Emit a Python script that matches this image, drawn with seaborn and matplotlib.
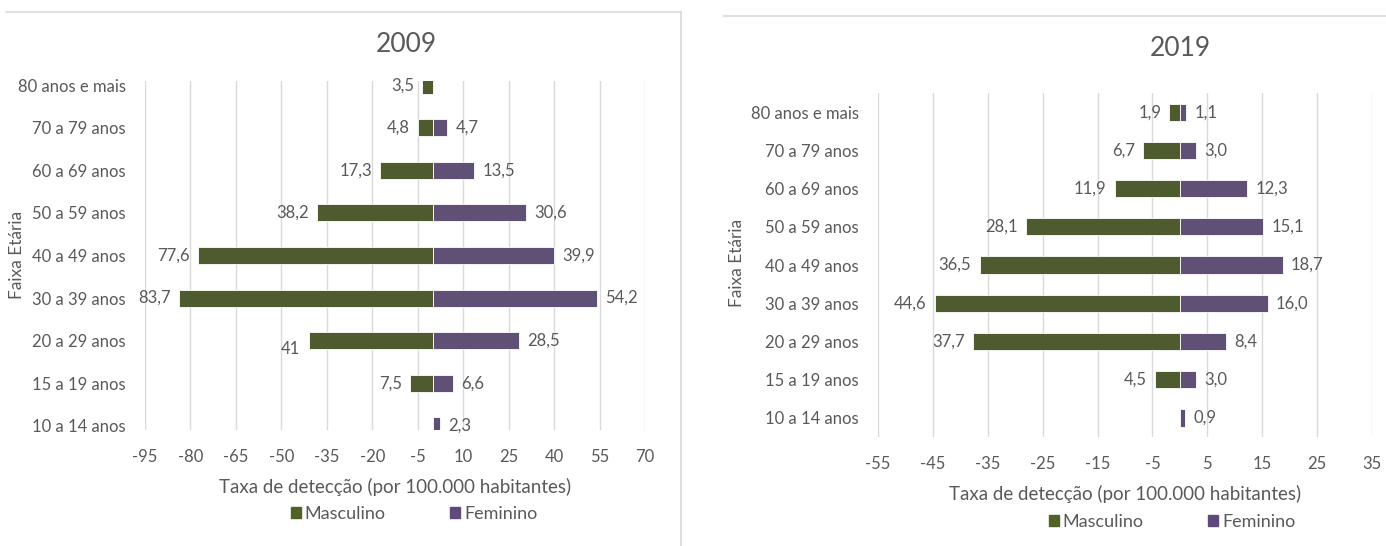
import matplotlib
matplotlib.use("Agg")
import matplotlib.pyplot as plt
from matplotlib.lines import Line2D
import seaborn as sns
import pandas as pd
import numpy as np

# dados (taxa de detecção por 100.000 habitantes)
faixas = ["80 anos e mais", "70 a 79 anos", "60 a 69 anos", "50 a 59 anos",
          "40 a 49 anos", "30 a 39 anos", "20 a 29 anos", "15 a 19 anos",
          "10 a 14 anos"]
masc_2009 = [3.5, 4.8, 17.3, 38.2, 77.6, 83.7, 41, 7.5, np.nan]
fem_2009 = [np.nan, 4.7, 13.5, 30.6, 39.9, 54.2, 28.5, 6.6, 2.3]
masc_2019 = [1.9, 6.7, 11.9, 28.1, 36.5, 44.6, 37.7, 4.5, np.nan]
fem_2019 = [1.1, 3.0, 12.3, 15.1, 18.7, 16.0, 8.4, 3.0, 0.9]
ticks_2009 = list(range(-95, 71, 15))
ticks_2019 = list(range(-55, 36, 10))

VERDE = "#4F6228"
ROXO = "#604A7B"
CINZA = "#595959"
GRADE = "#D9D9D9"

sns.set_style("white")
plt.rcParams["font.family"] = ["Lato", "DejaVu Sans"]
plt.rcParams["text.color"] = CINZA
plt.rcParams["axes.unicode_minus"] = False


def fmt(v):
    return str(v).replace(".", ",")


def piramide(ax, masc, fem, ticks, largura, ymarg):
    df = pd.DataFrame({
        "faixa": faixas * 2,
        "sexo": ["Masculino"] * len(faixas) + ["Feminino"] * len(faixas),
        "valor": [-m for m in masc] + list(fem),
    }).dropna()
    sns.barplot(data=df, y="faixa", x="valor", hue="sexo", order=faixas,
                hue_order=["Masculino", "Feminino"], dodge=False,
                palette={"Masculino": VERDE, "Feminino": ROXO}, width=largura,
                edgecolor="white", linewidth=0.6, ax=ax, zorder=3)
    ax.set_xlim(ticks[0], ticks[-1])
    ax.set_xticks(ticks)
    ax.set_ylim(len(faixas) - 1 + ymarg, -ymarg)
    ax.grid(axis="x", color=GRADE, linewidth=1)
    ax.grid(axis="y", visible=False)
    sns.despine(ax=ax, left=True, bottom=True)
    ax.tick_params(axis="both", length=0, labelsize=12, labelcolor=CINZA)
    ax.tick_params(axis="x", pad=14)
    ax.tick_params(axis="y", pad=14)
    ax.set_xlabel("Taxa de detecção (por 100.000 habitantes)", fontsize=13.5,
                  color=CINZA, labelpad=9)
    ax.set_ylabel("")
    for i, (m, f) in enumerate(zip(masc, fem)):
        if not np.isnan(m):
            dy = 6 if m == 41 else 0
            ax.annotate(fmt(m), (-m, i), xytext=(-6, -dy), textcoords="offset points",
                        ha="right", va="center", fontsize=12, color=CINZA)
        if not np.isnan(f):
            ax.annotate(fmt(f), (f, i), xytext=(6, 0), textcoords="offset points",
                        ha="left", va="center", fontsize=12, color=CINZA)
    ax.legend_.remove()
    return ax


fig = plt.figure(figsize=(13.86, 5.46), dpi=100)
ax1 = fig.add_axes([0.1046, 0.2125, 0.3608, 0.6392])
ax2 = fig.add_axes([0.6335, 0.1996, 0.3564, 0.6300])

piramide(ax1, masc_2009, fem_2009, ticks_2009, 0.4, 0.1)
piramide(ax2, masc_2019, fem_2019, ticks_2019, 0.45, 0.5)

fig.text(406 / 1386, 1 - 45 / 546, "2009", ha="center", va="center", fontsize=19, color=CINZA)
fig.text(1180 / 1386, 1 - 48 / 546, "2019", ha="center", va="center", fontsize=19, color=CINZA)
fig.text(17 / 1386, 1 - 255 / 546, "Faixa Etária", rotation=90, ha="center", va="center",
         fontsize=12.5, color=CINZA)
fig.text(737 / 1386, 1 - 263 / 546, "Faixa Etária", rotation=90, ha="center", va="center",
         fontsize=12.5, color=CINZA)

handles = [plt.Rectangle((0, 0), 1, 1, color=VERDE), plt.Rectangle((0, 0), 1, 1, color=ROXO)]
for cx, cy in [(414, 514), (1172, 522)]:
    fig.legend(handles, ["Masculino", "Feminino"], loc="center",
               bbox_to_anchor=(cx / 1386, 1 - cy / 546), ncol=2, frameon=False,
               handlelength=0.55, handleheight=0.55, handletextpad=0.2,
               columnspacing=3.6, fontsize=13, labelcolor=CINZA)

# molduras cinza dos gráficos
fig.add_artist(Line2D([6 / 1386, 681 / 1386], [1 - 12 / 546, 1 - 12 / 546],
                      transform=fig.transFigure, color=GRADE, linewidth=1.2))
fig.add_artist(Line2D([681 / 1386, 681 / 1386], [1 - 12 / 546, 0],
                      transform=fig.transFigure, color=GRADE, linewidth=1.2))
fig.add_artist(Line2D([723 / 1386, 1], [1 - 16 / 546, 1 - 16 / 546],
                      transform=fig.transFigure, color=GRADE, linewidth=1.2))

fig.savefig("out.png", dpi=100, facecolor="white")
